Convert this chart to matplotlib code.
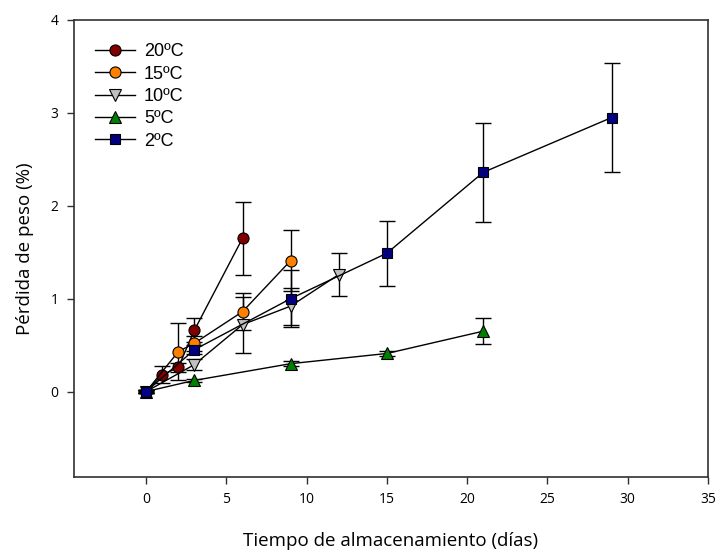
import matplotlib
matplotlib.use("Agg")
import matplotlib.pyplot as plt

# Weight loss (%) over storage time (days) at each temperature
labels = ["20ºC", "15ºC", "10ºC", "5ºC", "2ºC"]

days_20 = [0, 1, 2, 3, 6]
loss_20 = [0.0, 0.18, 0.26, 0.66, 1.65]
err_20 = [0.02, 0.09, 0.05, 0.13, 0.39]

days_15 = [0, 2, 3, 6, 9]
loss_15 = [0.0, 0.43, 0.52, 0.86, 1.41]
err_15 = [0.02, 0.31, 0.08, 0.20, 0.33]

days_10 = [0, 3, 6, 9, 12]
loss_10 = [0.0, 0.29, 0.72, 0.92, 1.26]
err_10 = [0.02, 0.06, 0.30, 0.20, 0.23]

days_5 = [0, 3, 9, 15, 21]
loss_5 = [0.0, 0.12, 0.30, 0.41, 0.65]
err_5 = [0.01, 0.02, 0.03, 0.03, 0.14]

days_2 = [0, 3, 9, 15, 21, 29]
loss_2 = [0.0, 0.45, 1.00, 1.49, 2.36, 2.95]
err_2 = [0.02, 0.05, 0.31, 0.35, 0.53, 0.59]

x_ticks = [0, 5, 10, 15, 20, 25, 30, 35]
y_ticks = [0, 1, 2, 3, 4]

series = [
    (days_20, loss_20, err_20, "o", "#800000"),
    (days_15, loss_15, err_15, "o", "#FF8000"),
    (days_10, loss_10, err_10, "v", "#C0C0C0"),
    (days_5, loss_5, err_5, "^", "#008000"),
    (days_2, loss_2, err_2, "s", "#000080"),
]

fig = plt.figure(figsize=(7.17, 5.54), dpi=100)
ax = fig.add_axes([0.1032, 0.139, 0.8842, 0.8249])

for i, ((x, y, e, m, c), lab) in enumerate(zip(series, labels)):
    ax.errorbar(x, y, yerr=e, fmt="none", ecolor="black", elinewidth=1.0,
                capsize=6, capthick=1.0, zorder=2 + i * 0.1)
    ax.plot(x, y, color="black", linewidth=1.0, marker=m, markersize=8 if m != "s" else 7.5,
            markerfacecolor=c, markeredgecolor="black", markeredgewidth=0.8,
            label=lab, zorder=3 + i * 0.1)

ax.set_xlim(-4.5, 35)
ax.set_ylim(-0.92, 4)
ax.set_xticks(x_ticks)
ax.set_yticks(y_ticks)

tick_font = {"family": "Open Sans", "size": 10}
ax.set_xticklabels([str(v) for v in x_ticks], **tick_font)
ax.set_yticklabels([str(v) for v in y_ticks], **tick_font)
ax.tick_params(direction="out", length=5, width=1, color="#303030", pad=6)

for s in ax.spines.values():
    s.set_color("#303030")
    s.set_linewidth(1.2)

ax.set_xlabel("Tiempo de almacenamiento (días)", fontfamily="Open Sans", fontsize=13.5, labelpad=18)
ax.set_ylabel("Pérdida de peso (%)", fontfamily="Open Sans", fontsize=13.5, labelpad=12)

leg = ax.legend(loc="upper left", bbox_to_anchor=(0.008, 0.985), frameon=False,
                handlelength=2.2, handletextpad=0.5, labelspacing=0.3,
                prop={"family": "Liberation Sans", "size": 13})

fig.savefig("out.png", dpi=100)
